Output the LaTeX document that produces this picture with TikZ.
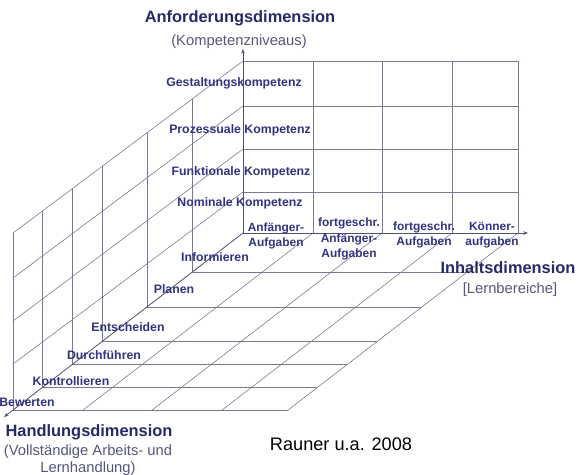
\documentclass[tikz,border=0pt]{standalone}
\usepackage{fontspec}
\setmainfont{Liberation Sans}
\usetikzlibrary{arrows.meta}
\definecolor{gridline}{RGB}{120,120,150}
\definecolor{axisline}{RGB}{80,80,115}
\definecolor{labelblue}{RGB}{50,50,130}
\definecolor{titleblue}{RGB}{40,40,105}
\definecolor{subblue}{RGB}{85,85,125}
\begin{document}
\begin{tikzpicture}[x=0.3mm,y=-0.3mm,
  gridl/.style={draw=gridline,line width=0.5pt},
  axisl/.style={draw=axisline,line width=0.7pt,-{Stealth[length=4pt,width=3pt]}},
  lbl/.style={text=labelblue,font=\fontsize{10.5}{12}\selectfont\bfseries,inner sep=0pt},
  collbl/.style={lbl,align=center,font=\fontsize{10.2}{13}\selectfont\bfseries},
  dimtitle/.style={text=titleblue,font=\fontsize{14}{16}\selectfont\bfseries,inner sep=0pt},
  dimsub/.style={text=subblue,font=\fontsize{12.6}{15}\selectfont,inner sep=0pt,align=center},
]
\useasboundingbox (0,0) rectangle (578,475);

% back wall: competence levels x content areas
\foreach \r in {61,106,149,192} \draw[gridl] (243,\r) -- (518,\r);
\foreach \c in {313,382,452,518} \draw[gridl] (\c,61) -- (\c,233);

% side wall: competence levels x action phases
\foreach \r in {61,106,149,192} \draw[gridl] (243,\r) -- (13,\r+172);
\foreach \x in {192,147,102,72,42,13}
  \draw[gridl] (\x,{61+0.748*(243-\x)}) -- (\x,{233+0.77*(243-\x)});

% floor: action phases x content areas
\foreach \x in {192,147,102,72,42,13}
  \draw[gridl] (\x,{233+0.77*(243-\x)}) -- ({\x+275},{233+0.77*(243-\x)});
\foreach \c in {313,382,452,518} \draw[gridl] (\c,233) -- (\c-230,410.1);

% the three axes
\coordinate (O) at (243,233);
\coordinate (Atop) at (243,49);
\coordinate (Iend) at (528,233);
\coordinate (Hend) at (4,417);
\draw[axisl] (O) -- (Atop);
\draw[axisl] (O) -- (Iend);
\draw[axisl] (O) -- (Hend);

% axis titles
\node[dimtitle] (anf) at (240,18) {Anforderungsdimension};
\node[dimsub] (anfsub) at (239,42) {(Kompetenzniveaus)};
\node[dimtitle] (inh) at (508,268) {Inhaltsdimension};
\node[dimsub] (inhsub) at (510,290) {[Lernbereiche]};
\node[dimtitle] (hdl) at (89,432) {Handlungsdimension};
\node[dimsub] (hdlsub) at (88,460) {(Vollständige Arbeits- und\\Lernhandlung)};
\node[inner sep=0pt,font=\fontsize{15.5}{18}\selectfont] (src) at (341,444) {Rauner u.a. 2008};

% competence levels
\node[lbl] (k4) at (234,83) {Gestaltungskompetenz};
\node[lbl] (k3) at (240,130) {Prozessuale Kompetenz};
\node[lbl] (k2) at (241,172) {Funktionale Kompetenz};
\node[lbl] (k1) at (240,203) {Nominale Kompetenz};

% content areas
\node[collbl] (c1) at (276,236) {Anfänger-\\Aufgaben};
\node[collbl] (c2) at (349,239) {fortgeschr.\\Anfänger-\\Aufgaben};
\node[collbl] (c3) at (424,235) {fortgeschr.\\Aufgaben};
\node[collbl] (c4) at (492,235) {Könner-\\aufgaben};

% action phases
\node[lbl] (p1) at (215,257) {Informieren};
\node[lbl] (p2) at (174,289) {Planen};
\node[lbl] (p3) at (128,327) {Entscheiden};
\node[lbl] (p4) at (104,355) {Durchführen};
\node[lbl] (p5) at (71,381) {Kontrollieren};
\node[lbl] (p6) at (27,402) {Bewerten};
\end{tikzpicture}
\end{document}
